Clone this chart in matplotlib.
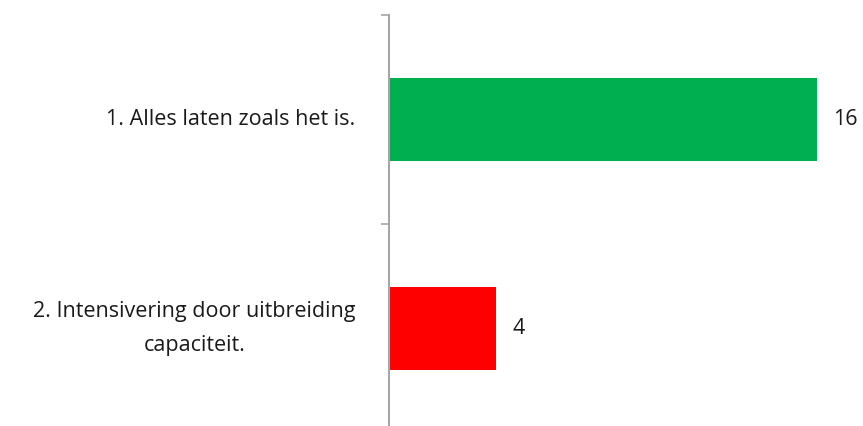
import matplotlib.pyplot as plt

# Data
labels = ["1. Alles laten zoals het is.", "2. Intensivering door uitbreiding\ncapaciteit."]
values = [16, 4]
colors = ["#00B050", "#FF0000"]

fig = plt.figure(figsize=(8.63, 4.26), dpi=100)
ax = fig.add_axes([0.4513, -0.0164, 0.526, 0.9812])

pos = list(range(len(values)))
bars = ax.barh(pos, values, height=0.4, color=colors)

ax.set_ylim(len(values) - 0.5, -0.5)
ax.set_xlim(0, 17)

# category boundaries as ticks, labels as text
ax.set_yticks([p - 0.5 for p in pos] + [pos[-1] + 0.5])
ax.set_yticklabels([])
ax.tick_params(axis="y", length=6, width=1.2, color="#A6A6A6")
ax.set_xticks([])

for side in ["top", "right", "bottom"]:
    ax.spines[side].set_visible(False)
ax.spines["left"].set_color("#A6A6A6")
ax.spines["left"].set_linewidth(1.5)

for p, lab in zip(pos, labels):
    ax.annotate(lab, xy=(0, p), xytext=(-34, 0), textcoords="offset pixels",
                ha="right", va="center", multialignment="center",
                fontsize=15.5, family="Open Sans", color="#1a1a1a",
                linespacing=1.85)

for bar, v in zip(bars, values):
    ax.annotate(f"{v}", xy=(bar.get_width(), bar.get_y() + bar.get_height() / 2),
                xytext=(16, 0), textcoords="offset pixels",
                ha="left", va="center", fontsize=15.5, family="Open Sans",
                color="#1a1a1a")

fig.savefig("out.png", dpi=100)
